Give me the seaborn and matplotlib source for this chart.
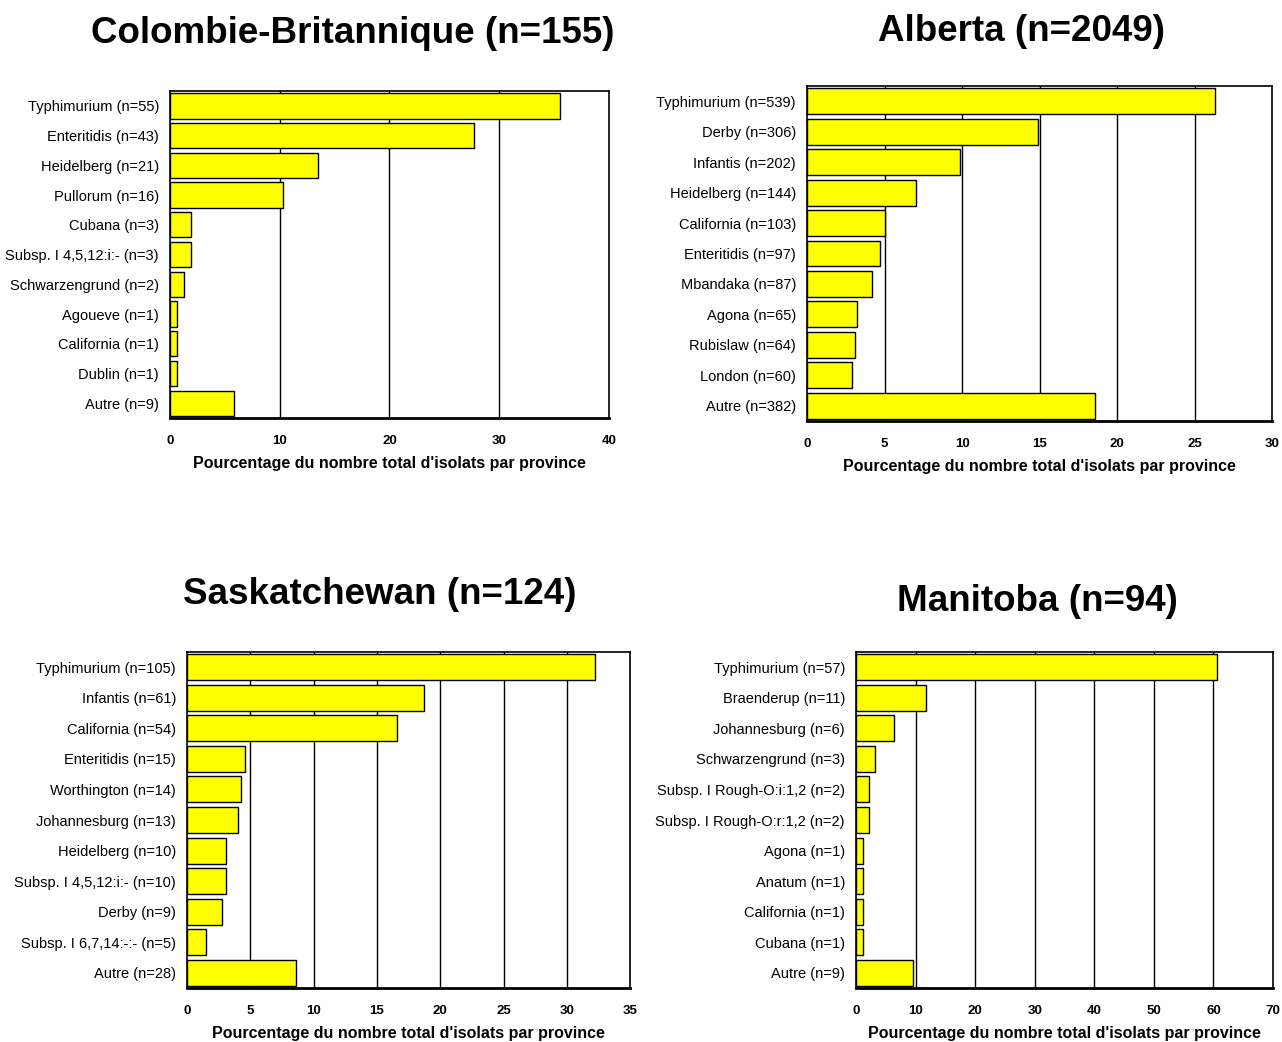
import matplotlib
matplotlib.use('Agg')
import matplotlib.pyplot as plt
import pandas as pd
import seaborn as sns

# --- data (percentages) ---
bc_labels = ['Typhimurium (n=55)', 'Enteritidis (n=43)', 'Heidelberg (n=21)',
             'Pullorum (n=16)', 'Cubana (n=3)', 'Subsp. I 4,5,12:i:- (n=3)',
             'Schwarzengrund (n=2)', 'Agoueve (n=1)', 'California (n=1)',
             'Dublin (n=1)', 'Autre (n=9)']
bc_pct = [35.5, 27.7, 13.5, 10.3, 1.9, 1.9, 1.3, 0.65, 0.65, 0.65, 5.8]

ab_labels = ['Typhimurium (n=539)', 'Derby (n=306)', 'Infantis (n=202)',
             'Heidelberg (n=144)', 'California (n=103)', 'Enteritidis (n=97)',
             'Mbandaka (n=87)', 'Agona (n=65)', 'Rubislaw (n=64)',
             'London (n=60)', 'Autre (n=382)']
ab_pct = [26.3, 14.9, 9.9, 7.0, 5.0, 4.7, 4.2, 3.2, 3.1, 2.9, 18.6]

sk_labels = ['Typhimurium (n=105)', 'Infantis (n=61)', 'California (n=54)',
             'Enteritidis (n=15)', 'Worthington (n=14)', 'Johannesburg (n=13)',
             'Heidelberg (n=10)', 'Subsp. I 4,5,12:i:- (n=10)', 'Derby (n=9)',
             'Subsp. I 6,7,14:-:- (n=5)', 'Autre (n=28)']
sk_pct = [32.2, 18.7, 16.6, 4.6, 4.3, 4.0, 3.1, 3.1, 2.8, 1.5, 8.6]

mb_labels = ['Typhimurium (n=57)', 'Braenderup (n=11)', 'Johannesburg (n=6)',
             'Schwarzengrund (n=3)', 'Subsp. I Rough-O:i:1,2 (n=2)',
             'Subsp. I Rough-O:r:1,2 (n=2)', 'Agona (n=1)', 'Anatum (n=1)',
             'California (n=1)', 'Cubana (n=1)', 'Autre (n=9)']
mb_pct = [60.6, 11.7, 6.4, 3.2, 2.1, 2.1, 1.1, 1.1, 1.1, 1.1, 9.6]

titles = ['Colombie-Britannique (n=155)', 'Alberta (n=2049)',
          'Saskatchewan (n=124)', 'Manitoba (n=94)']
xmax = [40, 30, 35, 70]
xstep = [10, 5, 5, 10]

sns.set_style('white')
plt.rcParams['font.family'] = ['Liberation Sans', 'DejaVu Sans']
plt.rcParams['text.color'] = 'black'
plt.rcParams['xtick.color'] = 'black'
plt.rcParams['ytick.color'] = 'black'
plt.rcParams['axes.labelcolor'] = 'black'

fig = plt.figure(figsize=(12.82, 10.42), dpi=100)

boxes = [[0.1326, 0.5988, 0.3424, 0.3138],
         [0.6295, 0.5960, 0.3627, 0.3215],
         [0.1459, 0.0518, 0.3456, 0.3225],
         [0.6677, 0.0518, 0.3253, 0.3225]]
title_xy = [(0.275, 0.968), (0.797, 0.970), (0.296, 0.429), (0.809, 0.423)]

panels = [(bc_labels, bc_pct), (ab_labels, ab_pct),
          (sk_labels, sk_pct), (mb_labels, mb_pct)]

for i, (labels, pct) in enumerate(panels):
    ax = fig.add_axes(boxes[i])
    df = pd.DataFrame({'serotype': labels, 'pct': pct})
    sns.barplot(data=df, x='pct', y='serotype', orient='h', color='#ffff00',
                saturation=1, edgecolor='black', linewidth=1, width=0.85,
                ax=ax, zorder=3)
    ax.set_xlim(0, xmax[i])
    ax.set_xticks(range(0, xmax[i] + 1, xstep[i]))
    for x in range(xstep[i], xmax[i], xstep[i]):
        ax.axvline(x, color='black', linewidth=1, zorder=1)
    ax.tick_params(axis='x', length=0, pad=12, labelsize=9.5)
    ax.tick_params(axis='y', length=0, pad=8, labelsize=10.5)
    for t in ax.get_xticklabels():
        t.set_fontweight('bold')
    ax.set_ylabel('')
    ax.set_xlabel("Pourcentage du nombre total d'isolats par province",
                  fontsize=11.5, fontweight='bold', labelpad=7)
    for s in ax.spines.values():
        s.set_visible(True)
        s.set_color('black')
        s.set_linewidth(1.2)
    ax.spines['bottom'].set_linewidth(2)
    fig.text(title_xy[i][0], title_xy[i][1], titles[i], ha='center',
             va='center', fontsize=26.5, fontweight='bold')

fig.savefig('out.png', dpi=100)
